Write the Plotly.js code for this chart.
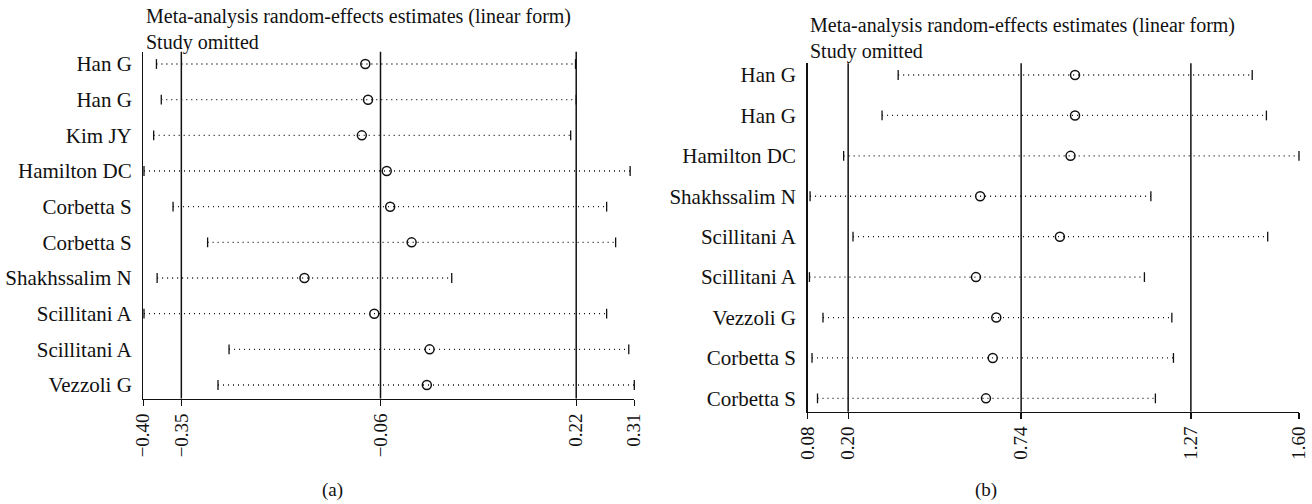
<!DOCTYPE html>
<html>
<head>
<meta charset="utf-8">
<script src="https://cdn.plot.ly/plotly-3.0.1.min.js"></script>
<style>html,body{margin:0;padding:0;background:#fff;}#chart{width:1312px;height:504px;}</style>
</head>
<body>
<div id="chart"></div>
<script>
// ---- Panel (a) data ----
const studiesA = ["Han G","Han G","Kim JY","Hamilton DC","Corbetta S","Corbetta S","Shakhssalim N","Scillitani A","Scillitani A","Vezzoli G"];
const estA  = [-0.083,-0.079,-0.088,-0.052,-0.047,-0.016,-0.171,-0.070,0.010,0.006];
const lowA  = [-0.385,-0.378,-0.389,-0.403,-0.361,-0.311,-0.384,-0.403,-0.280,-0.296];
const highA = [0.221,0.222,0.214,0.300,0.266,0.279,0.042,0.266,0.298,0.306];
const refA  = [-0.349,-0.061,0.222];
const tickValsA = [-0.404,-0.349,-0.061,0.222,0.306];
const tickTextA = ["\u22120.40","\u22120.35","\u22120.06","0.22","0.31"];

// ---- Panel (b) data ----
const studiesB = ["Han G","Han G","Hamilton DC","Shakhssalim N","Scillitani A","Scillitani A","Vezzoli G","Corbetta S","Corbetta S"];
const estB  = [0.907,0.907,0.893,0.613,0.860,0.600,0.663,0.652,0.631];
const lowB  = [0.359,0.309,0.190,0.086,0.219,0.084,0.126,0.092,0.109];
const highB = [1.456,1.500,1.601,1.142,1.504,1.122,1.207,1.212,1.156];
const refB  = [0.204,0.740,1.266];
const tickValsB = [0.078,0.204,0.740,1.266,1.601];
const tickTextB = ["0.08","0.20","0.74","1.27","1.60"];

const titleLines = ["Meta-analysis random-effects estimates (linear form)", "Study omitted"];
const captions = ["(a)", "(b)"];

const FONT = "Liberation Serif, Times New Roman, serif";
const FS_LABEL = 21;
const FS_TICK = 19;
const FS_TITLE = 20;
const INK = "#111";

function panelTraces(studies, est, low, high, xa, ya) {
  const idx = studies.map((_, i) => i);
  const lx = [], ly = [];
  idx.forEach(i => { lx.push(low[i], high[i], null); ly.push(i, i, null); });
  const capX = low.concat(high);
  const capY = idx.concat(idx);
  return [
    {type:"scatter", mode:"lines", x:lx, y:ly, xaxis:xa, yaxis:ya,
     line:{color:INK, width:1.3, dash:"1px,4px"}, hoverinfo:"skip", showlegend:false, cliponaxis:false},
    {type:"scatter", mode:"markers", x:capX, y:capY, xaxis:xa, yaxis:ya,
     marker:{symbol:"line-ns", size:7, line:{color:INK, width:1.3}}, showlegend:false, cliponaxis:false},
    {type:"scatter", mode:"markers", x:est, y:idx, xaxis:xa, yaxis:ya,
     marker:{symbol:"circle-open", size:9, color:INK, line:{color:INK, width:1.5}}, showlegend:false, cliponaxis:false}
  ];
}

const data = panelTraces(studiesA, estA, lowA, highA, "x", "y")
  .concat(panelTraces(studiesB, estB, lowB, highB, "x2", "y2"));

function xAxis(domain, vals, text, anchor) {
  return {domain:domain, anchor:anchor, range:[vals[0], vals[vals.length-1]],
    tickmode:"array", tickvals:vals, ticktext:text, tickangle:-90,
    ticks:"outside", ticklen:6, tickwidth:1.3, tickcolor:INK,
    showline:true, linecolor:INK, linewidth:1.3, showgrid:false, zeroline:false,
    tickfont:{family:FONT, size:FS_TICK, color:INK}, fixedrange:true};
}
function yAxis(domain, studies, range, anchor) {
  return {domain:domain, anchor:anchor, range:range,
    tickmode:"array", tickvals:studies.map((_, i) => i), ticktext:studies,
    ticks:"", ticklabelstandoff:6, showline:true, linecolor:INK, linewidth:1.3,
    showgrid:false, zeroline:false, tickfont:{family:FONT, size:FS_LABEL, color:INK}, fixedrange:true};
}

const shapes = [];
refA.forEach(v => shapes.push({type:"line", xref:"x", yref:"y domain", x0:v, x1:v, y0:0, y1:1, line:{color:INK, width:1.5}}));
refB.forEach(v => shapes.push({type:"line", xref:"x2", yref:"y2 domain", x0:v, x1:v, y0:0, y1:1, line:{color:INK, width:1.5}}));

const W = 1312, H = 504;
const annotations = [];
function title(xpx, ypxBottom) {
  annotations.push({
    text:titleLines.join("<br>"), xref:"paper", yref:"paper", x:xpx/W, y:1-ypxBottom/H,
    xanchor:"left", yanchor:"bottom", align:"left", showarrow:false, borderpad:0,
    font:{family:FONT, size:FS_TITLE, color:INK}});
}
title(145, 55);
title(809, 64);
[[332, 490], [986, 490]].forEach((p, k) => annotations.push({
  text:captions[k], xref:"paper", yref:"paper", x:p[0]/W, y:1-p[1]/H,
  xanchor:"center", yanchor:"middle", showarrow:false,
  font:{family:FONT, size:FS_TICK, color:INK}}));

const layout = {
  width:W, height:H, margin:{l:0, r:0, t:0, b:0},
  paper_bgcolor:"#fff", plot_bgcolor:"#fff", showlegend:false,
  xaxis: xAxis([143.3/W, 634.3/W], tickValsA, tickTextA, "y"),
  yaxis: yAxis([1-398.5/H, 1-51.7/H], studiesA, [9.378, -0.345], "x"),
  xaxis2: xAxis([807.5/W, 1299/W], tickValsB, tickTextB, "y2"),
  yaxis2: yAxis([1-411.7/H, 1-63.3/H], studiesB, [8.33, -0.29], "x2"),
  shapes:shapes, annotations:annotations
};

Plotly.newPlot("chart", data, layout, {displayModeBar:false, staticPlot:true});
</script>
</body>
</html>
